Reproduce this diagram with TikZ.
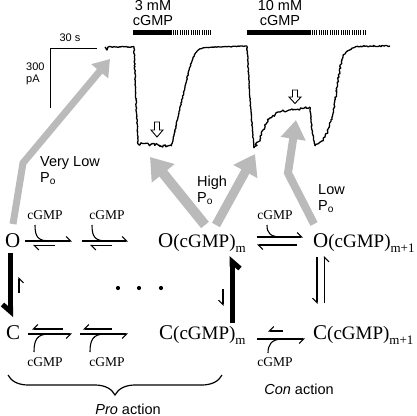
\documentclass[tikz,border=0pt]{standalone}
\usepackage{fontspec}
\setmainfont{Liberation Serif}
\setsansfont{Liberation Sans}
\usetikzlibrary{arrows.meta, decorations.pathmorphing, decorations.pathreplacing}
\tikzstyle{species} = [
    inner sep=1pt, 
    anchor=base west, 
    font=\fontsize{21}{21}\selectfont
]
\tikzstyle{ligand} = [
    inner sep=0pt, 
    font=\fontsize{13.5}{14}\selectfont
]
\tikzstyle{potext} = [
    inner sep=0pt, 
    anchor=north west, 
    align=left, 
    font=\sffamily\fontsize{14.5}{16}\selectfont
]
\tikzstyle{dose} = [
    inner sep=0pt, 
    align=center, 
    font=\sffamily\fontsize{14.5}{15.5}\selectfont
]
\tikzstyle{harp} = [
    line width=1.1pt, 
    -{Straight Barb[harpoon, length=4.5pt, width=9pt]}
]
\tikzstyle{harpswap} = [
    line width=1.1pt, 
    -{Straight Barb[harpoon, swap, length=4.5pt, width=9pt]}
]
\tikzstyle{bigharp} = [
    line width=5pt, 
    -{Straight Barb[harpoon, swap, length=7pt, width=16pt]}
]
\tikzstyle{hint} = [
    line width=7pt, 
    draw=black!27, 
    line join=miter
]
\tikzstyle{hollow} = [
    draw=black, 
    fill=white, 
    line width=0.9pt
]
\tikzset{trace/.style={line width=1.3pt, line join=round, decorate, 
    decoration={random steps, segment length=1.4pt, amplitude=#1}}}
\newcommand{\cgmpgroup}{{\fontsize{19}{19}\selectfont(cGMP)}}
\newcommand{\stoich}[1]{\raisebox{-5pt}{\fontsize{13}{13}\selectfont #1}}

\begin{document}
\begin{tikzpicture}[x=1pt, y=-1pt]
        \useasboundingbox (0,0) rectangle (416,416);
        \pgfmathsetseed{7}

        % scale bar
        \draw[line width=1pt] (97,48) -- (50,48) -- (50,108);
        \node (secs) [inner sep=0pt, font=\sffamily\fontsize{11}{12}\selectfont] at (70,38) {30 s};
        \node (amps) [inner sep=0pt, anchor=west, align=left, font=\sffamily\fontsize{11}{12}\selectfont] at (26,74) {300\\pA};

        % cGMP applications
        \node (lowdose) [dose] at (153,13) {3 mM\\cGMP};
        \node (highdose) [dose] at (280,13) {10 mM\\cGMP};
        \draw[line width=5pt] (133,32) -- (172,32);
        \draw[line width=5pt, dash pattern=on 1pt off 1.2pt] (173,32) -- (212,32);
        \draw[line width=5pt] (247,32) -- (311,32);
        \draw[line width=5pt, dash pattern=on 1pt off 1.2pt] (312,32) -- (365,32);

        % current trace
        \draw[trace=0.5pt] (105,47) -- (107,50) -- (108,47) -- (134,47) -- (136,100) -- (138,144);
        \draw[trace=1.6pt] (138,144) -- (171,146);
        \draw[trace=0.4pt] plot[smooth] coordinates {(171,146) (173,140) (178,117) (185,87) (190,67) (195,54) (203,48) (220,47) (247,46)};
        \draw[trace=0.4pt] (247,46) -- (250,100) -- (254,148);
        \draw[trace=1.2pt] plot[smooth] coordinates {(254,148) (260,139) (265,125) (270,118) (280,112) (293,110) (310,107)};
        \draw[trace=0.4pt] (310,107) -- (312,130) -- (315,146);
        \draw[trace=0.8pt] plot[smooth] coordinates {(315,146) (325,137) (333,113) (338,80) (343,57) (353,48) (370,46) (390,46)};

        % open arrows on the trace
        \draw[hollow] (154.5,122) -- (159.5,122) -- (159.5,130) -- (163,130) -- (157,137) -- (151,130) -- (154.5,130) -- cycle;
        \draw[hollow] (292.5,90) -- (297.5,90) -- (297.5,97) -- (301,97) -- (295,103.5) -- (289,97) -- (292.5,97) -- cycle;

        % states
        \node (O) [species] at (4,247) {O};
        \node (C) [species] at (5,339) {C};
        \node (Om) [species] at (157,247) {O\cgmpgroup\stoich{m}};
        \node (Cm) [species] at (158,339) {C\cgmpgroup\stoich{m}};
        \node (On) [species] at (312,247) {O\cgmpgroup\stoich{m+1}};
        \node (Cn) [species] at (312,339) {C\cgmpgroup\stoich{m+1}};

        \node (gapdots) at (139,288) {};
        \foreach \x in {118,139,161}
            \fill (\x,288) circle (2.1);

        % binding steps, open row
        \node (ligA) [ligand] at (45,215) {cGMP};
        \node (ligB) [ligand] at (107,215) {cGMP};
        \node (ligC) [ligand] at (275,215) {cGMP};
        \draw[harp] (25,241) -- (72,241);
        \draw[harp] (55,245.5) -- (33,245.5);
        \draw[line width=1.1pt] (35,225) .. controls (35,237) and (38,241) .. (50,241);
        \draw[harp] (82,241) -- (128,241);
        \draw[harp] (112,245.5) -- (90,245.5);
        \draw[line width=1.1pt] (92,225) .. controls (92,237) and (95,241) .. (107,241);
        \draw[harp] (257,237) -- (303,237);
        \draw[harp] (297,245) -- (257,245);
        \draw[line width=1.1pt] (267,225) .. controls (267,233) and (270,237) .. (282,237);

        % binding steps, closed row
        \node (ligD) [ligand] at (45,362) {cGMP};
        \node (ligE) [ligand] at (107,362) {cGMP};
        \node (ligF) [ligand] at (275,362) {cGMP};
        \draw[harpswap] (63,329) -- (32,329);
        \draw[harpswap] (28,334) -- (72,334);
        \draw[line width=1.1pt] (34,352) .. controls (34,340) and (37,334) .. (49,334);
        \draw[harpswap] (112,329) -- (83,329);
        \draw[harpswap] (80,334) -- (128,334);
        \draw[line width=1.1pt] (90,352) .. controls (90,340) and (93,334) .. (105,334);
        \draw[harpswap] (283,331) -- (268,331);
        \draw[harpswap] (257,339) -- (305,339);
        \draw[line width=1.1pt] (268,353) .. controls (268,345) and (271,339) .. (283,339);

        % gating steps
        \draw[bigharp] (10.5,253) -- (10.5,317);
        \draw[harpswap] (19,293) -- (19,277);
        \draw[bigharp] (232,323) -- (232,256);
        \draw[harpswap] (223,289) -- (223,306);
        \draw[harpswap] (317,257) -- (317,304);
        \draw[harpswap] (324.5,303) -- (324.5,256);

        % open probability hints
        \coordinate (restTop) at (110,59);
        \coordinate (lowDip) at (150,157);
        \coordinate (highDip) at (255,154);
        \coordinate (plateau) at (296,120);
        \draw[hint, -{Triangle[length=16pt, width=21pt]}] (13,224) -- (23,163) -- (restTop);
        \draw[hint, line width=10pt, -{Triangle[length=21pt, width=28pt]}] (205,225) -- (lowDip);
        \draw[hint, line width=9pt, -{Triangle[length=20pt, width=26pt]}] (216,225) -- (highDip);
        \draw[hint, line width=8pt, -{Triangle[length=19pt, width=24pt]}] (314,224) -- (288,173) -- (plateau);
        \node (vlow) [potext] at (40,156) {Very Low\\P\textsubscript{o}};
        \node (high) [potext] at (197,176) {High\\P\textsubscript{o}};
        \node (low) [potext] at (318,184) {Low\\P\textsubscript{o}};

        % actions
        \draw[line width=1.2pt, decorate, decoration={brace, mirror, amplitude=20pt}] (8,375) -- (222,375);
        \node (pro) [inner sep=0pt, font=\sffamily\fontsize{14.5}{16}\selectfont] at (128,409) {\textit{Pro} action};
        \node (con) [inner sep=0pt, font=\sffamily\fontsize{14.5}{16}\selectfont] at (299,389) {\textit{Con} action};
    \end{tikzpicture}
\end{document}
